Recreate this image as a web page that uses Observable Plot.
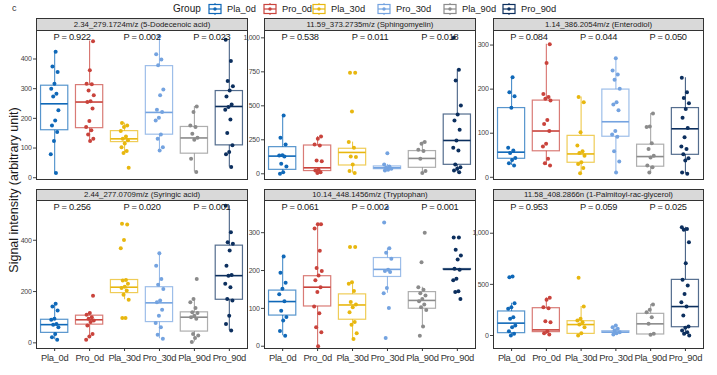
<!DOCTYPE html>
<html><head><meta charset="utf-8">
<script src="https://cdn.jsdelivr.net/npm/d3@7"></script>
<script src="https://cdn.jsdelivr.net/npm/@observablehq/plot@0.6"></script>
<style>
body{margin:0;background:#fff;}
#root{position:relative;width:717px;height:375px;overflow:hidden;font-family:"Liberation Sans",Arial,sans-serif;color:#222;background:#fff;}
.strip{position:absolute;box-sizing:border-box;border:1px solid #333;background:#d9d9d9;font-size:7.8px;text-align:center;color:#1a1a1a;white-space:nowrap;overflow:hidden;}
.panel{position:absolute;}
.panel svg text{letter-spacing:-0.3px;}
.lg{position:absolute;font-size:9.3px;color:#1a1a1a;white-space:nowrap;line-height:12px;}
</style></head><body><div id="root"></div>
<script>
// ---- data ----
const groups = ["Pla_0d","Pro_0d","Pla_30d","Pro_30d","Pla_90d","Pro_90d"];
const groupColors = ["#0f68b8","#c9433c","#e8b70f","#74a3e0","#8b8b8b","#0c2f5e"];
const titles = [
  "2.34_279.1724m/z (5-Dodecenoic acid)",
  "11.59_373.2735m/z (Sphingomyelin)",
  "1.14_386.2054m/z (Enterodiol)",
  "2.44_277.0709m/z (Syringic acid)",
  "10.14_448.1456m/z (Tryptophan)",
  "11.58_408.2866n (1-Palmitoyl-rac-glycerol)"
];
const pValues = [
  ["0.922","0.002","0.023"],
  ["0.538","0.011","0.018"],
  ["0.084","0.044","0.050"],
  ["0.256","0.020","0.001"],
  ["0.061","0.002","0.001"],
  ["0.953","0.059","0.025"]
];
const yTicks = [[0,100,200,300,400],[0,250,500,750,1000],[0,100,200,300],[0,200,400],[0,100,200,300],[0,500,1000]];
const yDomains = [[-6,496],[-42,1054],[-5,333],[-22,555],[-6,385],[-127,1320]];

// points per group (Pla_0d, Pro_0d, Pla_30d, Pro_30d, Pla_90d, Pro_90d)
const dodecenoicPts = [
  [424,375,356,317,300,283,274,227,193,176,154,124,79,16],
  [460,362,317,315,294,278,258,255,233,191,171,160,146,131,124],
  [184,176,171,157,139,131,126,115,103,90,83,34],
  [476,416,398,379,297,278,229,221,202,193,146,131,103,92],
  [240,221,176,171,148,135,128,64,19],
  [465,393,326,308,294,274,247,238,229,196,151,109,87,79,36]
];
const sphingomyelinPts = [
  [429,265,216,137,135,127,74,54,12,0],
  [275,257,216,208,98,93,29,25,12,5],
  [743,743,458,233,191,127,123,69,20,5],
  [152,69,54,44,37,29,25],
  [233,221,176,167,110,20,5],
  [1000,765,686,502,436,392,324,245,191,172,69,49,37,25,12]
];
const enterodiolPts = [
  [227,193,184,158,67,61,55,44,39,32,27],
  [302,259,189,182,178,174,130,121,105,76,70,42,32,27],
  [182,170,102,72,59,55,49,34,30,21,9],
  [270,242,233,221,201,170,165,152,105,97,92,59,36,11],
  [145,115,114,77,64,49,45,27,23,11],
  [226,193,180,168,155,135,112,91,70,64,52,43,38,11,8]
];
const syringicPts = [
  [152,142,126,94,90,74,71,61,35,22,12],
  [184,116,110,100,94,87,81,68,35,25,12],
  [464,461,401,369,245,243,230,219,214,204,188,168,97,97],
  [349,301,249,227,210,165,158,129,106,77,61,32,16],
  [249,171,158,136,119,116,106,100,94,35,29,19,3],
  [535,431,392,386,360,301,265,262,230,217,171,165,106,74,48]
];
const tryptophanPts = [
  [237,194,168,152,137,119,94,77,68,40,28],
  [322,322,311,252,207,199,187,174,156,143,105,87,50,37,0],
  [262,262,169,165,146,117,110,103,90,64,57,34,19],
  [366,327,259,247,231,202,199,196,154,140,101,22],
  [300,222,156,149,140,134,125,119,110,103,96,52,28],
  [287,287,255,240,229,205,202,178,174,145,143,125]
];
const palmitoylPts = [
  [577,570,316,277,261,179,163,98,81,42,16,0],
  [368,349,277,267,140,130,42,23,10],
  [564,283,163,147,130,107,81,23,0],
  [98,81,65,49,33,23,10],
  [303,251,228,179,114,16,7],
  [1059,1042,1033,912,707,544,489,407,326,283,195,88,75,49,33,16,0]
];

// box stats per group: [q1, median, q3, whiskerLow, whiskerHigh]
const dodecenoicBox = [[160,249,310,16,424],[167,255,312,124,461],[120,131,157,83,184],[145,220,376,92,476],[81,134,171,19,240],[109,240,292,36,465]];
const sphingomyelinBox = [[29,130,196,0,429],[20,44,208,5,275],[61,157,184,5,233],[34,44,54,25,69],[44,113,167,5,233],[66,245,436,12,765]];
const enterodiolBox = [[42,57,157,27,227],[59,105,174,27,302],[33,53,94,9,182],[92,126,199,11,270],[24,47,74,11,145],[51,110,157,8,226]];
const syringicBox = [[39,71,90,12,152],[71,90,106,25,116],[194,217,245,168,245],[81,156,217,16,349],[44,100,119,3,171],[168,262,379,48,535]];
const tryptophanBox = [[81,118,147,28,237],[105,156,185,0,322],[70,109,137,19,169],[183,203,233,140,259],[99,121,143,52,156],[202,203,204,202,204]];
const palmitoylBox = [[23,121,235,0,316],[33,55,267,10,368],[16,107,140,0,283],[26,33,42,10,65],[10,114,212,7,303],[81,283,544,0,1059]];

const allPts = [dodecenoicPts, sphingomyelinPts, enterodiolPts, syringicPts, tryptophanPts, palmitoylPts];
const allBox = [dodecenoicBox, sphingomyelinBox, enterodiolBox, syringicBox, tryptophanBox, palmitoylBox];

// ---- layout ----
const root = document.getElementById("root");
const colLeft = [36,264,493], colRight = [247,475,703];
const rowStrip = [[18,30],[189,200]], rowPlot = [[30,179],[200,348]];

function addDiv(cls, style, html){
  const d = document.createElement("div");
  if (cls) d.className = cls;
  Object.assign(d.style, style);
  if (html !== undefined) d.innerHTML = html;
  root.appendChild(d);
  return d;
}

// panel label and axis title
addDiv(null,{position:"absolute",left:"12px",top:"3px",fontSize:"9px",color:"#333"},"c");
addDiv(null,{position:"absolute",left:"14px",top:"190px",transform:"translate(-50%,-50%) rotate(-90deg)",fontSize:"12.5px",color:"#1a1a1a",whiteSpace:"nowrap"},"Signal intensity (arbitrary unit)");

// legend
addDiv("lg",{left:"173px",top:"3px",fontSize:"10px"},"Group");
const iconX = [208,263,312,377,443,502];
groups.forEach((g,i)=>{
  const c = groupColors[i];
  addDiv("lg",{left:iconX[i]+"px",top:"3px"},
    `<svg width="14" height="12" style="display:block"><line x1="7" x2="7" y1="0" y2="12" stroke="${c}" stroke-width="1"/><rect x="1" y="1.5" width="12" height="9" fill="#fff" stroke="${c}" stroke-width="1.2"/><line x1="1" x2="13" y1="6" y2="6" stroke="${c}" stroke-width="1.2"/><circle cx="7" cy="6" r="1.7" fill="${c}"/></svg>`);
  addDiv("lg",{left:(iconX[i]+19)+"px",top:"3px"},g);
});

for (let k=0;k<6;k++){
  const col = k%3, row = Math.floor(k/3);
  const left = colLeft[col], right = colRight[col];
  const [sTop,sBot] = rowStrip[row];
  const [pTop,pBot] = rowPlot[row];
  addDiv("strip",{left:left+"px",top:sTop+"px",width:(right-left+1)+"px",height:(sBot-sTop+1)+"px",lineHeight:(sBot-sTop-1)+"px"},titles[k]);

  const mL=32, mR=3, mT=3, mB = row===1 ? 26 : 3;
  const pts = [];
  allPts[k].forEach((arr,i)=>arr.forEach((v,j)=>{
    const jit = ((((j+1)*0.618034 + i*0.29) % 1) - 0.5) * 0.24;
    pts.push({i, g:groups[i], v, xj:i+jit});
  }));
  const boxes = allBox[k].map((b,i)=>({i, g:groups[i], q1:b[0], med:b[1], q3:b[2], lo:b[3], hi:b[4]}));
  const pRows = pValues[k].map((p,j)=>({x:2*j+0.5, t:"P = "+p}));

  const marks = [
    Plot.ruleX(boxes,{x:"i", y1:"lo", y2:"q1", stroke:"g", strokeOpacity:0.75, strokeWidth:1.1}),
    Plot.ruleX(boxes,{x:"i", y1:"q3", y2:"hi", stroke:"g", strokeOpacity:0.75, strokeWidth:1.1}),
    Plot.rect(boxes,{x1:d=>d.i-0.39, x2:d=>d.i+0.39, y1:"q1", y2:"q3", stroke:"g", fill:"none", strokeOpacity:0.7, strokeWidth:1.2}),
    Plot.ruleY(boxes,{y:"med", x1:d=>d.i-0.39, x2:d=>d.i+0.39, stroke:"g", strokeWidth:1.6}),
    Plot.dot(pts,{x:"xj", y:"v", fill:"g", r:2}),
    Plot.text(pRows,{x:"x", text:"t", frameAnchor:"top", lineAnchor:"middle", dy:7, fontSize:9.3, fill:"#1a1a1a"}),
    Plot.frame({stroke:"#333", strokeWidth:1}),
    Plot.axisY({ticks:yTicks[k], tickSize:3, tickPadding:2, fontSize:7, color:"#444", label:null})
  ];
  if (row===1) marks.push(Plot.axisX({ticks:[0,1,2,3,4,5], tickFormat:i=>groups[i], tickSize:3, tickPadding:3, fontSize:9.4, color:"#333", label:null}));

  const svg = Plot.plot({
    width:(right-left)+mL+mR, height:(pBot-pTop)+mT+mB,
    marginLeft:mL, marginRight:mR, marginTop:mT, marginBottom:mB,
    style:{fontFamily:"Liberation Sans, Arial, sans-serif", background:"transparent", overflow:"visible"},
    x:{type:"linear", domain:[-0.52,5.52], axis:null},
    y:{domain:yDomains[k], axis:null},
    color:{domain:groups, range:groupColors},
    marks
  });
  const holder = addDiv("panel",{left:(left-mL)+"px", top:(pTop-mT)+"px"});
  holder.appendChild(svg);
}
</script>
</body></html>
